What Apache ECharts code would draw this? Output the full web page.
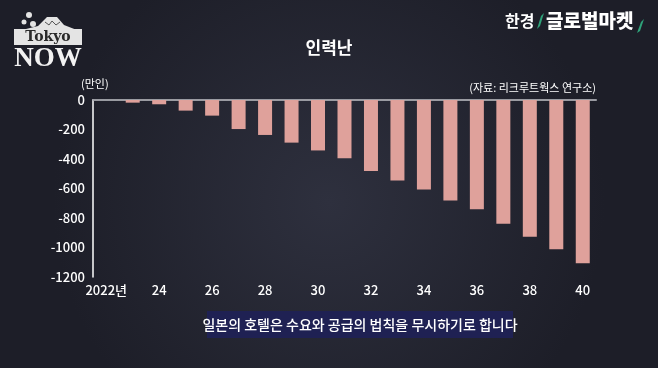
<!DOCTYPE html>
<html><head><meta charset="utf-8">
<script src="https://cdn.jsdelivr.net/npm/echarts@6/dist/echarts.min.js"></script>
<style>html,body{margin:0;padding:0;background:#262835}#c{width:658px;height:368px}</style>
</head><body><div id="c"></div>
<script>
const years = ['2022','2023','2024','2025','2026','2027','2028','2029','2030','2031','2032','2033','2034','2035','2036','2037','2038','2039','2040'];
const values = [0,-18,-29,-72,-106,-197,-237,-289,-342,-395,-481,-545,-606,-682,-741,-839,-927,-1012,-1107];
const yTicks = [0,-200,-400,-600,-800,-1000,-1200];
const FONT = '"Noto Sans CJK KR","Noto Sans",sans-serif';
const chart = echarts.init(document.getElementById('c'));
function xLabel(v, i){
  if (i % 2) return '';
  return i === 0 ? v + '년' : v.slice(2);
}
chart.setOption({
  backgroundColor: {type:'radial', x:0.5, y:0.55, r:0.75, colorStops:[{offset:0,color:'#2e303e'},{offset:1,color:'#1d1e28'}]},
  animation:false,
  grid:{left:93, right:62, top:100, bottom:91},
  xAxis:[{
    type:'category', data:years, position:'bottom',
    axisLine:{lineStyle:{color:'#ffffff', width:1.5}},
    axisTick:{alignWithLabel:true, interval:0, length:5, lineStyle:{color:'#ffffff'}},
    axisLabel:{interval:0, formatter:xLabel, color:'#ffffff', fontSize:13, fontWeight:500, fontFamily:FONT, margin:7}
  },{
    type:'category', data:years, position:'top',
    axisLine:{lineStyle:{color:'#8a8c94', width:1.5}},
    axisTick:{show:false}, axisLabel:{show:false}
  }],
  yAxis:{
    type:'value', min:yTicks[yTicks.length-1], max:yTicks[0], interval:200,
    axisLine:{show:true, lineStyle:{color:'#ffffff', width:1.5}},
    axisTick:{show:false}, splitLine:{show:false},
    axisLabel:{color:'#ffffff', fontSize:13, fontWeight:500, fontFamily:FONT, margin:8, formatter:v => String(v)}
  },
  series:[{
    type:'bar', data:values, barWidth:14,
    itemStyle:{color:'#dfa19b'}
  }],
  graphic:[
    {type:'text', left:'center', top:39, style:{text:'인력난', fill:'#ffffff', font:'bold 17px '+FONT}},
    {type:'text', left:81, top:78, style:{text:'(만인)', fill:'#ffffff', font:'11px '+FONT}},
    {type:'text', right:62, top:82, style:{text:'(자료: 리크루트웍스 연구소)', fill:'#ffffff', font:'11px '+FONT}},
    {type:'rect', shape:{x:207, y:311, width:306, height:27}, style:{fill:'#1f2153'}},
    {type:'text', x:360, y:325, style:{text:'일본의 호텔은 수요와 공급의 법칙을 무시하기로 합니다', fill:'#ffffff', font:'500 14px '+FONT, align:'center', verticalAlign:'middle'}},
    // Tokyo NOW logo
    {type:'polygon', shape:{points:[[14,32],[38,26],[47,17],[57,17],[64,25],[82,32]]}, style:{fill:'#e4e4e4'}},
    {type:'polyline', shape:{points:[[45,22],[49,25],[52,21],[56,25],[60,22]]}, style:{stroke:'#555', lineWidth:1, fill:null}},
    {type:'rect', shape:{x:14, y:29, width:68, height:16}, style:{fill:'#e4e4e4'}},
    {type:'text', x:48, y:37, style:{text:'Tokyo', fill:'#2a2a2a', font:'bold 14px "DejaVu Serif",serif', align:'center', verticalAlign:'middle'}},
    {type:'text', x:48, y:59, style:{text:'NOW', fill:'#f2f2f2', font:'bold 27px "Liberation Serif",serif', align:'center', verticalAlign:'middle'}},
    {type:'circle', shape:{cx:29, cy:15, r:3}, style:{fill:'#e4e4e4'}},
    {type:'circle', shape:{cx:24, cy:22, r:2.5}, style:{fill:'#e4e4e4'}},
    {type:'circle', shape:{cx:33, cy:24, r:3}, style:{fill:'#e4e4e4'}},
    // 한경 글로벌마켓 logo
    {type:'text', x:505, y:21, style:{text:'한경', fill:'#ffffff', font:'bold 16px '+FONT, verticalAlign:'middle'}},
    {type:'polygon', shape:{points:[[541,16],[544,13],[540,26],[537,29]]}, style:{fill:'#2fa37a'}},
    {type:'text', x:546, y:21, style:{text:'글로벌마켓', fill:'#ffffff', font:'900 19px '+FONT, verticalAlign:'middle'}},
    {type:'polygon', shape:{points:[[641,22],[644,19],[640,31],[637,33]]}, style:{fill:'#2fa37a'}}
  ]
});
</script></body></html>
